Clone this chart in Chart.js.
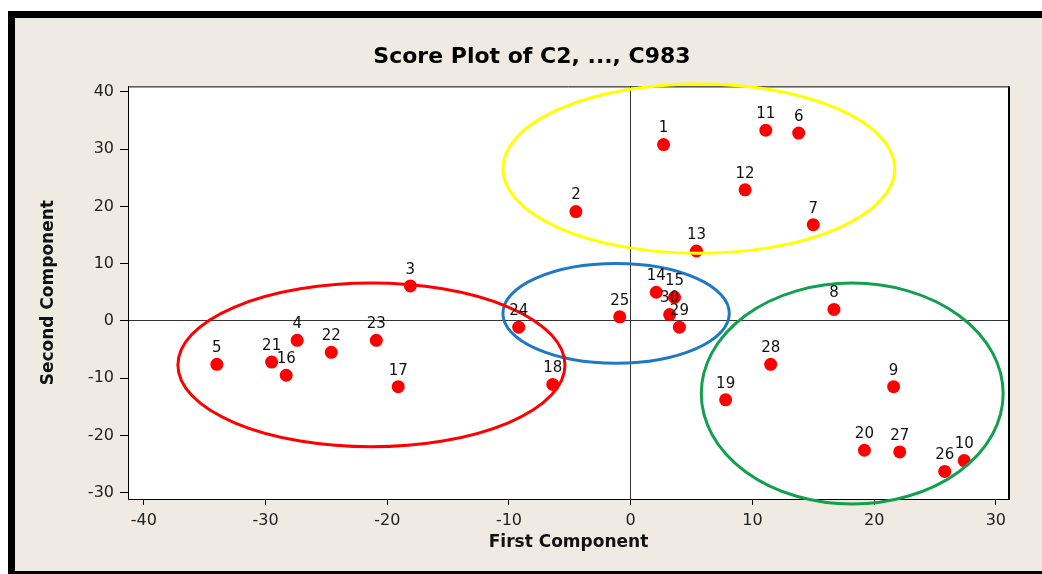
<!DOCTYPE html>
<html>
<head>
<meta charset="utf-8">
<script src="https://cdn.jsdelivr.net/npm/chart.js@4.4.1/dist/chart.umd.min.js"></script>
<style>
  html, body { margin: 0; padding: 0; background: #fff; }
  #wrap { width: 1042px; height: 574px; }
</style>
</head>
<body>
<div id="wrap"><canvas id="scoreChart" width="1042" height="574"></canvas></div>
<script>
// observation numbers and their scores
const ids = [1, 2, 3, 4, 5, 6, 7, 8, 9, 10, 11, 12, 13, 14, 15, 16, 17, 18, 19, 20, 21, 22, 23, 24, 25, 26, 27, 28, 29, 30];
const firstComp = [2.7, -4.5, -18.1, -27.4, -34.0, 13.8, 15.0, 16.7, 21.6, 27.4, 11.1, 9.4, 5.4, 2.1, 3.6, -28.3, -19.1, -6.4, 7.8, 19.2, -29.5, -24.6, -20.9, -9.2, -0.9, 25.8, 22.1, 11.5, 4.0, 3.2];
const secondComp = [30.8, 19.1, 6.1, -3.4, -7.6, 32.8, 16.8, 2.0, -11.5, -24.4, 33.3, 22.9, 12.2, 5.0, 4.1, -9.5, -11.5, -11.1, -13.8, -22.6, -7.2, -5.5, -3.4, -1.1, 0.7, -26.3, -22.9, -7.6, -1.1, 1.1];

const xTicks = [-40, -30, -20, -10, 0, 10, 20, 30];
const yTicks = [-30, -20, -10, 0, 10, 20, 30, 40];

// group outlines: centre and half-widths in data units
const ringColors = ["#FFFF00", "#1F78C4", "#FF0000", "#12A04E"];
const ringCx = [5.6, -1.2, -21.3, 18.2];
const ringCy = [26.6, 1.3, -7.7, -12.7];
const ringRx = [16.1, 9.3, 15.9, 12.4];
const ringRy = [14.8, 8.7, 14.3, 19.3];

const FONT = "'DejaVu Sans', Verdana, sans-serif";

const framePlugin = {
  id: "frame",
  beforeDraw(chart) {
    const { ctx, width, height, chartArea: a } = chart;
    ctx.save();
    ctx.fillStyle = "#fff";
    ctx.fillRect(0, 0, width, height);
    ctx.fillStyle = "#EFEBE2";
    ctx.fillRect(8, 11, width - 8, height - 11);
    ctx.fillStyle = "#000";
    ctx.fillRect(8, 11, width - 8, 7);
    ctx.fillRect(8, 11, 7, height - 11);
    ctx.fillRect(8, height - 3, width - 8, 3);
    ctx.fillStyle = "#fff";
    ctx.fillRect(a.left, a.top, a.right - a.left, a.bottom - a.top);
    ctx.restore();
  },
  afterDatasetsDraw(chart) {
    const { ctx, chartArea: a, scales } = chart;
    const xs = scales.x, ys = scales.y;
    ctx.save();
    // top and right edge of the plot box
    ctx.strokeStyle = "#000";
    ctx.lineWidth = 1;
    ctx.beginPath();
    ctx.moveTo(a.left, a.top + 0.5);
    ctx.lineTo(a.right, a.top + 0.5);
    ctx.stroke();
    ctx.lineWidth = 2;
    ctx.beginPath();
    ctx.moveTo(a.right, a.top);
    ctx.lineTo(a.right, a.bottom + 1);
    ctx.stroke();

    // group ellipses
    ctx.lineWidth = 3;
    ringColors.forEach((c, i) => {
      const cx = xs.getPixelForValue(ringCx[i]);
      const cy = ys.getPixelForValue(ringCy[i]);
      const rx = Math.abs(xs.getPixelForValue(ringCx[i] + ringRx[i]) - cx);
      const ry = Math.abs(ys.getPixelForValue(ringCy[i] + ringRy[i]) - cy);
      ctx.strokeStyle = c;
      ctx.beginPath();
      ctx.ellipse(cx, cy, rx, ry, 0, 0, Math.PI * 2);
      ctx.stroke();
    });

    // point labels
    const meta = chart.getDatasetMeta(0);
    ctx.fillStyle = "#111";
    ctx.font = "15px " + FONT;
    ctx.textAlign = "center";
    ctx.textBaseline = "middle";
    meta.data.forEach((pt, i) => {
      ctx.fillText(String(ids[i]), pt.x, pt.y - 16);
    });
    ctx.restore();
  }
};

new Chart(document.getElementById("scoreChart"), {
  type: "scatter",
  data: {
    datasets: [{
      label: "Scores",
      data: ids.map((_, i) => ({ x: firstComp[i], y: secondComp[i] })),
      backgroundColor: "#FF0000",
      pointRadius: 6.5,
      pointBorderWidth: 0,
      pointHoverRadius: 6.5,
    }],
  },
  options: {
    responsive: false,
    animation: false,
    events: [],
    layout: { padding: { left: 55, right: 33, top: 0, bottom: 0 } },
    plugins: {
      legend: { display: false },
      tooltip: { enabled: false },
      title: {
        display: true,
        text: "Score Plot of C2, ..., C983",
        color: "#000",
        font: { family: FONT, size: 22, weight: "bold" },
        padding: { top: 44, bottom: 16 },
      },
    },
    scales: {
      x: {
        type: "linear",
        min: -41.3,
        max: 31.08,
        afterBuildTicks: (s) => { s.ticks = xTicks.map((v) => ({ value: v })); },
        afterFit: (s) => { s.height = 75; },
        ticks: { color: "#222", font: { family: FONT, size: 16 }, padding: 6, maxRotation: 0 },
        grid: {
          color: (c) => (c.tick && c.tick.value === 0 ? "#333" : "rgba(0,0,0,0)"),
          tickColor: "#000",
          tickLength: 6,
        },
        border: { display: true, color: "#000", width: 1 },
        title: {
          display: true,
          text: "First Component",
          color: "#111",
          font: { family: FONT, size: 17, weight: "bold" },
          padding: { top: 0, bottom: 21 },
        },
      },
      y: {
        type: "linear",
        min: -31.12,
        max: 40.96,
        afterBuildTicks: (s) => { s.ticks = yTicks.map((v) => ({ value: v })); },
        afterFit: (s) => { s.width = 73; },
        ticks: { color: "#222", font: { family: FONT, size: 16 }, padding: 6 },
        grid: {
          color: (c) => (c.tick && c.tick.value === 0 ? "#333" : "rgba(0,0,0,0)"),
          tickColor: "#000",
          tickLength: 8,
        },
        border: { display: true, color: "#000", width: 1 },
        title: {
          display: true,
          text: "Second Component",
          color: "#111",
          font: { family: FONT, size: 17, weight: "bold" },
          padding: { top: -17, bottom: 0 },
        },
      },
    },
  },
  plugins: [framePlugin],
});
</script>
</body>
</html>
